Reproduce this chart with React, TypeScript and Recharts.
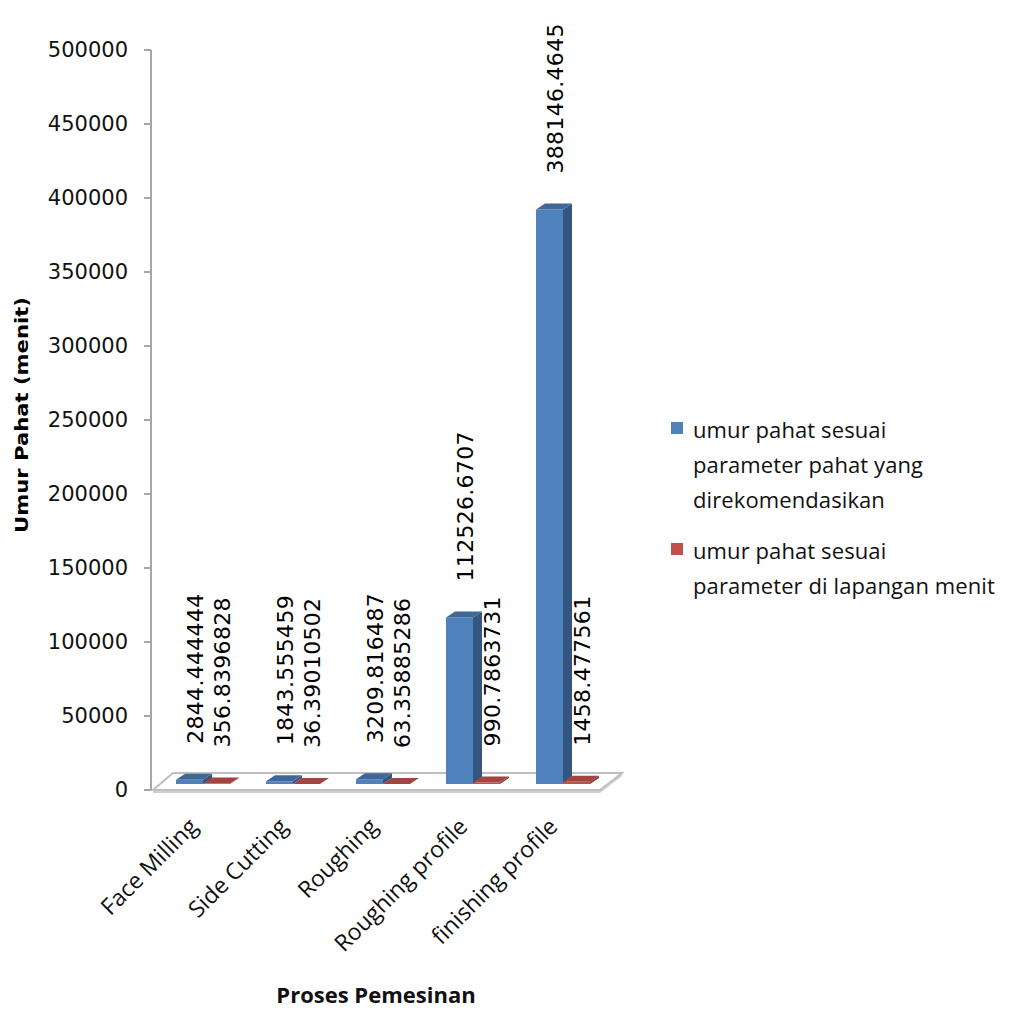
import React from "react";
import { Bar, BarChart, LabelList, ReferenceArea, XAxis, YAxis } from "recharts";

const categories = ["Face Milling", "Side Cutting", "Roughing", "Roughing profile", "finishing profile"];
const recommendedLife = [2844.444444, 1843.555459, 3209.816487, 112526.6707, 388146.4645];
const fieldLife = [356.8396828, 36.39010502, 63.35885286, 990.7863731, 1458.477561];
const yTicks = [0, 50000, 100000, 150000, 200000, 250000, 300000, 350000, 400000, 450000, 500000];

const seriesNames = [
  "umur pahat sesuai\nparameter pahat yang\ndirekomendasikan",
  "umur pahat sesuai\nparameter di lapangan menit",
];

const data = categories.map((name, i) => ({
  name,
  recommended: recommendedLife[i],
  field: fieldLife[i],
}));

// 3D look: bars sit a bit behind the axis plane
const SHIFT_X = 7;
const SHIFT_Y = -6;
const DEPTH_X = 9;
const DEPTH_Y = 6;

const shades: Record<string, { side: string; top: string }> = {
  "#4F81BD": { side: "#34557F", top: "#3F6899" },
  "#C0504D": { side: "#8A3734", top: "#A34441" },
};

function Bar3D(props: any) {
  const { x, y, width, height, fill } = props;
  const fx = x + SHIFT_X;
  const fy = y + SHIFT_Y;
  const h = Math.max(height, 0);
  const w = width;
  const s = shades[fill] ?? { side: fill, top: fill };
  return (
    <g>
      <rect x={fx} y={fy} width={w} height={h} fill={fill} />
      <polygon
        points={`${fx + w},${fy} ${fx + w + DEPTH_X},${fy - DEPTH_Y} ${fx + w + DEPTH_X},${fy + h - DEPTH_Y} ${fx + w},${fy + h}`}
        fill={s.side}
      />
      <polygon
        points={`${fx},${fy} ${fx + DEPTH_X},${fy - DEPTH_Y} ${fx + w + DEPTH_X},${fy - DEPTH_Y} ${fx + w},${fy}`}
        fill={s.top}
      />
    </g>
  );
}

function Floor(props: any) {
  const { x, y, width, height } = props;
  const yb = y + height;
  const fl = x + 2;
  const fr = x + width - 1;
  return (
    <g>
      <polygon
        points={`${fl},${yb} ${fr},${yb} ${fr},${yb + 3} ${fl},${yb + 3}`}
        fill="#D0D0D0"
      />
      <polygon
        points={`${fr},${yb} ${fr + 22},${yb - 17} ${fr + 22},${yb - 14} ${fr},${yb + 3}`}
        fill="#D0D0D0"
      />
      <polygon
        points={`${fl},${yb} ${fr},${yb} ${fr + 22},${yb - 17} ${fl + 20},${yb - 17}`}
        fill="#FFFFFF"
        stroke="#BFBFBF"
        strokeWidth={2}
      />
    </g>
  );
}

function ValueLabel(props: any) {
  const { x, y, width, value } = props;
  const cx = x + width / 2 + SHIFT_X + 6;
  const ty = y + SHIFT_Y - DEPTH_Y - 30;
  return (
    <text
      x={cx}
      y={ty}
      transform={`rotate(-90, ${cx}, ${ty})`}
      textAnchor="start"
      dominantBaseline="central"
      fontFamily="DejaVu Sans"
      fontSize={22}
      letterSpacing={0.3}
      fill="#000"
    >
      {String(value)}
    </text>
  );
}

function YTick(props: any) {
  const { x, y, payload } = props;
  return (
    <text x={x} y={y} textAnchor="end" dominantBaseline="central" fontFamily="DejaVu Sans" fontSize={21} fill="#111">
      {payload.value}
    </text>
  );
}

function XTick(props: any) {
  const { x, y, payload } = props;
  const ax = x + 3;
  const ay = y + 38;
  return (
    <text
      x={ax}
      y={ay}
      transform={`rotate(-45, ${ax}, ${ay})`}
      textAnchor="end"
      fontFamily="Open Sans"
      fontSize={23}
      fill="#111"
    >
      {payload.value}
    </text>
  );
}

const legendColors = ["#4F81BD", "#C0504D"];

export default function App() {
  return (
    <div style={{ position: "relative", width: 1009, height: 1000 }}>
      <BarChart
        width={700}
        height={1000}
        data={data}
        margin={{ top: 42, right: 107, left: 0, bottom: 0 }}
        barCategoryGap={18}
        barGap={0}
        style={{ overflow: "visible" }}
      >
        <ReferenceArea y1={0} y2={10000} shape={<Floor />} />
        <XAxis
          dataKey="name"
          axisLine={false}
          tickLine={false}
          tickSize={0}
          tickMargin={0}
          interval={0}
          height={218}
          tick={<XTick />}
          label={{
            value: "Proses Pemesinan",
            position: "insideBottom",
            offset: 5,
            style: { fontFamily: "Open Sans", fontWeight: 700, fontSize: 22, fill: "#111" },
          }}
        />
        <YAxis
          width={143}
          domain={[0, 500000]}
          ticks={yTicks}
          interval={0}
          axisLine={{ stroke: "#A6A6A6", strokeWidth: 2 }}
          tickLine={{ stroke: "#A6A6A6", strokeWidth: 2 }}
          tickSize={7}
          tickMargin={16}
          tick={<YTick />}
          label={{
            content: () => (
              <text
                x={14}
                y={407}
                transform="rotate(-90, 14, 407)"
                textAnchor="middle"
                dominantBaseline="central"
                fontFamily="DejaVu Sans"
                fontWeight={700}
                fontSize={17}
                textLength={236}
                lengthAdjust="spacingAndGlyphs"
                fill="#000"
              >
                Umur Pahat (menit)
              </text>
            ),
          }}
        />
        <Bar dataKey="recommended" name={seriesNames[0]} fill="#4F81BD" shape={<Bar3D />} isAnimationActive={false}>
          <LabelList dataKey="recommended" content={<ValueLabel />} />
        </Bar>
        <Bar dataKey="field" name={seriesNames[1]} fill="#C0504D" shape={<Bar3D />} isAnimationActive={false}>
          <LabelList dataKey="field" content={<ValueLabel />} />
        </Bar>
      </BarChart>
      <div
        style={{
          position: "absolute",
          left: 663,
          top: 404,
          fontFamily: "Open Sans",
          fontSize: 22,
          letterSpacing: 0.1,
          lineHeight: "35px",
          color: "#111",
          whiteSpace: "pre",
        }}
      >
        {seriesNames.map((name, i) => (
          <div key={name} style={{ position: "relative", paddingLeft: 22, marginBottom: i === 0 ? 16 : 0 }}>
            <span
              style={{
                position: "absolute",
                left: 0,
                top: 10,
                width: 12,
                height: 12,
                background: legendColors[i],
              }}
            />
            {name}
          </div>
        ))}
      </div>
    </div>
  );
}
